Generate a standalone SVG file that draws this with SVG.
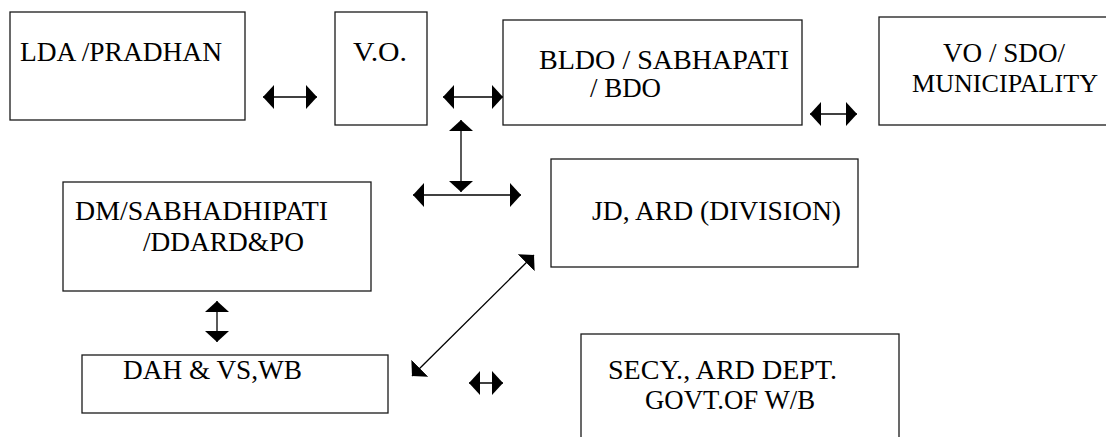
<svg xmlns="http://www.w3.org/2000/svg" width="1106" height="437" viewBox="0 0 1106 437">
  <style>
    .box { fill: #fff; stroke: #1a1a1a; stroke-width: 1.3; }
    .lbl { font-family: "Liberation Serif", Tinos, "Times New Roman", "DejaVu Serif", serif; font-size: 28px; fill: #000; }
    .con { stroke: #000; stroke-width: 1.3; fill: none; marker-start: url(#ah); marker-end: url(#ah); }
  </style>
  <defs>
    <marker id="ah" markerUnits="userSpaceOnUse" viewBox="0 0 11 24" refX="11" refY="12" markerWidth="11" markerHeight="24" orient="auto-start-reverse">
      <path d="M0,0 L11,12 L0,24 Z" fill="#000"/>
    </marker>
  </defs>
  <rect width="1106" height="437" fill="#fff"/>

  <g id="node-lda">
    <rect class="box" x="10" y="12" width="235" height="108"/>
    <text class="lbl" x="20" y="61" textLength="202" lengthAdjust="spacingAndGlyphs">LDA /PRADHAN</text>
  </g>
  <g id="node-vo">
    <rect class="box" x="335" y="12" width="92" height="113"/>
    <text class="lbl" x="353" y="61" textLength="54" lengthAdjust="spacingAndGlyphs">V.O.</text>
  </g>
  <g id="node-bldo">
    <rect class="box" x="503" y="20" width="299" height="105"/>
    <text class="lbl" x="539" y="69" textLength="250" lengthAdjust="spacingAndGlyphs">BLDO / SABHAPATI</text>
    <text class="lbl" x="590" y="97" textLength="71" lengthAdjust="spacingAndGlyphs">/ BDO</text>
  </g>
  <g id="node-vosdo">
    <rect class="box" x="879" y="17" width="240" height="108"/>
    <text class="lbl" x="943" y="62" textLength="122" lengthAdjust="spacingAndGlyphs">VO / SDO/</text>
    <text class="lbl" x="912" y="92" font-size="26" style="font-size:26px" textLength="186" lengthAdjust="spacingAndGlyphs">MUNICIPALITY</text>
  </g>
  <g id="node-jd">
    <rect class="box" x="551" y="159" width="307" height="108"/>
    <text class="lbl" x="592" y="220" textLength="249" lengthAdjust="spacingAndGlyphs">JD, ARD (DIVISION)</text>
  </g>
  <g id="node-dm">
    <rect class="box" x="63" y="182" width="308" height="109"/>
    <text class="lbl" x="75" y="220" textLength="253" lengthAdjust="spacingAndGlyphs">DM/SABHADHIPATI</text>
    <text class="lbl" x="143" y="251" textLength="161" lengthAdjust="spacingAndGlyphs">/DDARD&amp;PO</text>
  </g>
  <g id="node-dah">
    <rect class="box" x="82" y="355" width="306" height="58"/>
    <text class="lbl" x="123" y="379" textLength="179" lengthAdjust="spacingAndGlyphs">DAH &amp; VS,WB</text>
  </g>
  <g id="node-secy">
    <rect class="box" x="581" y="334" width="318" height="110"/>
    <text class="lbl" x="608" y="379" textLength="229" lengthAdjust="spacingAndGlyphs">SECY., ARD DEPT.</text>
    <text class="lbl" x="645" y="409" textLength="170" lengthAdjust="spacingAndGlyphs">GOVT.OF W/B</text>
  </g>

  <g id="connectors">
    <line class="con" x1="263" y1="97" x2="317" y2="97"/>
    <line class="con" x1="443" y1="97" x2="503" y2="97"/>
    <line class="con" x1="810" y1="114" x2="857" y2="114"/>
    <line class="con" x1="461" y1="120" x2="461" y2="192"/>
    <line class="con" x1="413" y1="195" x2="521" y2="195"/>
    <line class="con" x1="217" y1="301" x2="217" y2="342"/>
    <line class="con" x1="534" y1="255" x2="412" y2="376"/>
    <line class="con" x1="469" y1="383" x2="503" y2="383"/>
  </g>
</svg>
